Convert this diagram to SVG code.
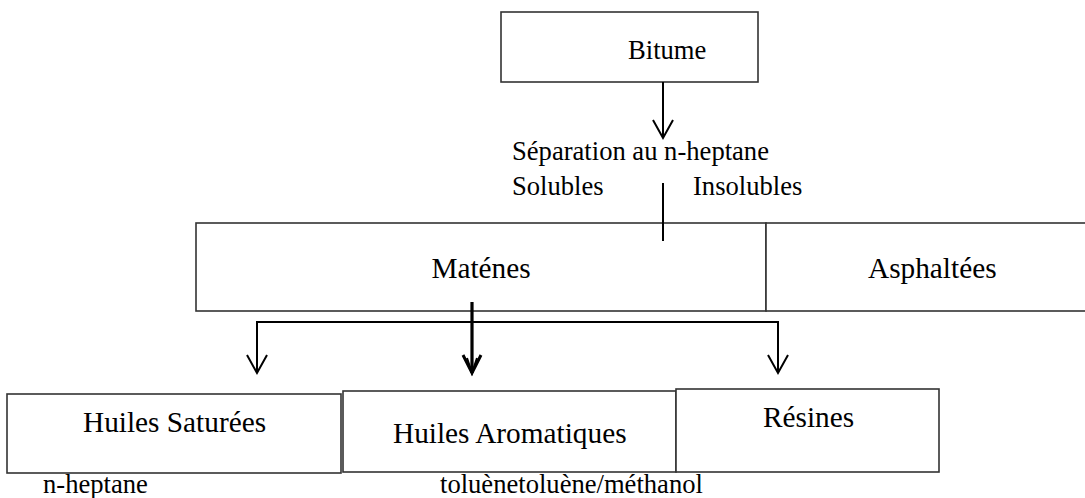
<svg xmlns="http://www.w3.org/2000/svg" width="1085" height="498" viewBox="0 0 1085 498">
  <defs>
    <style>
      .box { fill: #ffffff; stroke: #333333; stroke-width: 1.6; }
      text { font-family: 'Liberation Serif', 'DejaVu Serif', serif; fill: #000000; }
      .lbl { font-size: 29.3px; }
      .sm { font-size: 26.6px; }
      .wire { fill: none; stroke: #000000; stroke-width: 2; }
      .wire-bold { fill: none; stroke: #000000; stroke-width: 3.2; }
    </style>
    <!-- open V arrowhead, tip at the end of the line -->
    <marker id="vhead" markerUnits="userSpaceOnUse" markerWidth="40" markerHeight="40" refX="0" refY="0" orient="auto" overflow="visible">
      <path d="M-18,-10 L0,0 L-18,10" fill="none" stroke="#000000" stroke-width="2"/>
    </marker>
    <marker id="vhead-bold" markerUnits="userSpaceOnUse" markerWidth="40" markerHeight="40" refX="0" refY="0" orient="auto" overflow="visible">
      <path d="M-18,-9 L0,0 L-18,9" fill="none" stroke="#000000" stroke-width="3"/>
      <path d="M-15,-5 L0,0 L-15,5" fill="none" stroke="#000000" stroke-width="2"/>
    </marker>
  </defs>

  <rect width="1085" height="498" fill="#ffffff"/>

  <g id="node-bitume">
    <rect class="box" x="501" y="12" width="257" height="70"/>
    <text class="sm" x="628" y="59" font-family="Liberation Serif, serif">Bitume</text>
  </g>

  <g id="node-separation">
    <text class="sm" x="512" y="160" font-family="Liberation Serif, serif">Séparation au n-heptane</text>
    <text class="sm" x="512" y="195" font-family="Liberation Serif, serif">Solubles</text>
    <text class="sm" x="693" y="195" font-family="Liberation Serif, serif">Insolubles</text>
  </g>

  <g id="node-matenes">
    <rect class="box" x="196" y="223" width="570" height="88"/>
    <text class="lbl" x="481" y="278" text-anchor="middle" font-family="Liberation Serif, serif">Maténes</text>
  </g>

  <g id="node-asphaltees">
    <rect class="box" x="766" y="223" width="340" height="88"/>
    <text class="lbl" x="868" y="278" font-family="Liberation Serif, serif">Asphaltées</text>
  </g>

  <g id="node-huiles-saturees">
    <rect class="box" x="7" y="394" width="334" height="79"/>
    <text class="lbl" x="83" y="432" font-family="Liberation Serif, serif">Huiles Saturées</text>
    <text class="sm" x="43" y="493" font-family="Liberation Serif, serif">n-heptane</text>
  </g>

  <g id="node-huiles-aromatiques">
    <rect class="box" x="343" y="391" width="333" height="81"/>
    <text class="lbl" x="393" y="443" font-family="Liberation Serif, serif">Huiles Aromatiques</text>
    <text class="sm" x="440" y="493" font-family="Liberation Serif, serif">toluènetoluène/méthanol</text>
  </g>

  <g id="node-resines">
    <rect class="box" x="676" y="389" width="263" height="83"/>
    <text class="lbl" x="763" y="427" font-family="Liberation Serif, serif">Résines</text>
  </g>

  <g id="connectors">
    <line class="wire" x1="663" y1="82" x2="663" y2="138" marker-end="url(#vhead)"/>
    <line class="wire" x1="663" y1="183" x2="663" y2="241"/>
    <polyline class="wire" points="257,373 257,322 778,322 778,373"/>
    <line class="wire" x1="257" y1="340" x2="257" y2="373" marker-end="url(#vhead)"/>
    <line class="wire" x1="778" y1="340" x2="778" y2="373" marker-end="url(#vhead)"/>
    <line class="wire-bold" x1="472" y1="302" x2="472" y2="373" marker-end="url(#vhead-bold)"/>
  </g>
</svg>
